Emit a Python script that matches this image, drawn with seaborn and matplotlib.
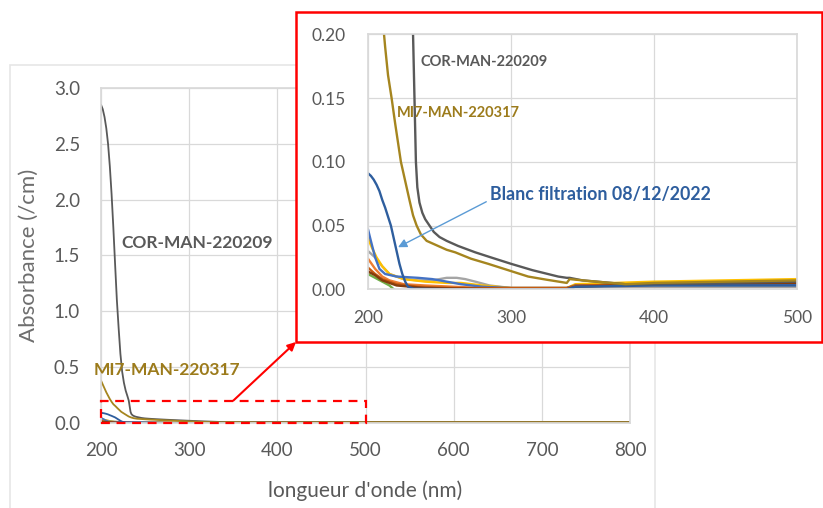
import numpy as np
import pandas as pd
import seaborn as sns
import matplotlib.pyplot as plt
from matplotlib.patches import Rectangle, ConnectionPatch

sns.set_theme(style="whitegrid")
plt.rcParams['font.family'] = ['Lato', 'DejaVu Sans']

# --- spectra (wavelength nm, absorbance /cm) ---
cor_wl = [200, 202, 204, 206, 208, 210, 212, 214, 216, 218, 220, 222, 224, 226, 228, 230, 231.5, 232.5,
          233.5, 234.5, 236, 238, 240, 243, 246, 250, 255, 263, 275, 286, 300, 315, 333, 339, 341, 350,
          360, 380, 400, 450, 500, 600, 700, 800]
cor_abs = [2.85, 2.81, 2.74, 2.64, 2.5, 2.3, 2.05, 1.75, 1.42, 1.1, 0.85, 0.62, 0.46, 0.36, 0.29, 0.24,
           0.2, 0.15, 0.1, 0.08, 0.068, 0.06, 0.055, 0.05, 0.045, 0.041, 0.038, 0.034, 0.029, 0.025, 0.02,
           0.015, 0.01, 0.009, 0.009, 0.007, 0.006, 0.004, 0.004, 0.005, 0.006, 0.006, 0.006, 0.006]

mi7_wl = [200, 202, 204, 206, 208, 210, 212, 214, 216.5, 219, 221, 223, 226, 229, 231.5, 234, 237, 241,
          247, 255, 261, 272, 284, 298, 312, 325, 339, 341, 350, 360, 380, 400, 450, 500, 600, 700, 800]
mi7_abs = [0.38, 0.345, 0.31, 0.275, 0.245, 0.215, 0.19, 0.168, 0.15, 0.13, 0.115, 0.1, 0.085, 0.07,
           0.058, 0.05, 0.043, 0.038, 0.035, 0.031, 0.029, 0.024, 0.02, 0.015, 0.01, 0.0075, 0.005, 0.008,
           0.007, 0.006, 0.004, 0.005, 0.006, 0.007, 0.007, 0.007, 0.007]

blanc_wl = [200, 202, 204, 206, 208, 210, 212, 214, 216, 218, 220, 222, 224, 226, 228, 232, 260, 300, 339,
            345, 400, 500, 800]
blanc_abs = [0.091, 0.089, 0.086, 0.082, 0.077, 0.07, 0.064, 0.057, 0.05, 0.04, 0.03, 0.02, 0.012, 0.006,
             0.002, 0.0005, 0.0, 0.0, 0.0, 0.002, 0.003, 0.003, 0.003]

blue_wl = [200, 202, 205, 208, 212, 220, 235, 245, 255, 265, 280, 300, 339, 345, 400, 500, 800]
blue_abs = [0.047, 0.038, 0.025, 0.016, 0.012, 0.01, 0.009, 0.008, 0.006, 0.004, 0.002, 0.001, 0.001, 0.003,
            0.004, 0.004, 0.004]

yellow_wl = [200, 203, 206, 210, 215, 225, 240, 255, 265, 280, 300, 339, 345, 400, 500, 800]
yellow_abs = [0.04, 0.032, 0.025, 0.018, 0.012, 0.008, 0.006, 0.005, 0.005, 0.003, 0.001, 0.001, 0.004,
              0.006, 0.008, 0.008]

lgray_wl = [200, 205, 210, 215, 225, 235, 245, 250, 255, 262, 268, 275, 285, 300, 339, 345, 500, 800]
lgray_abs = [0.03, 0.025, 0.018, 0.012, 0.008, 0.007, 0.007, 0.008, 0.009, 0.009, 0.008, 0.006, 0.003,
             0.001, 0.001, 0.002, 0.002, 0.002]

orange_wl = [200, 205, 210, 215, 225, 240, 260, 280, 339, 345, 500, 800]
orange_abs = [0.024, 0.016, 0.01, 0.007, 0.004, 0.003, 0.002, 0.001, 0.001, 0.002, 0.002, 0.002]

brown_wl = [200, 205, 210, 220, 235, 260, 339, 345, 400, 500, 800]
brown_abs = [0.017, 0.012, 0.008, 0.004, 0.002, 0.001, 0.001, 0.003, 0.004, 0.006, 0.006]

dbrown_wl = [200, 205, 210, 220, 240, 300, 339, 345, 400, 500, 800]
dbrown_abs = [0.014, 0.011, 0.007, 0.003, 0.001, 0.0, 0.0, 0.002, 0.004, 0.005, 0.005]

green_wl = [200, 205, 210, 215, 218, 222, 230, 800]
green_abs = [0.012, 0.009, 0.006, 0.003, 0.0, -0.003, -0.005, -0.005]

series = {
    "green": (green_wl, green_abs, "#70AD47"),
    "orange": (orange_wl, orange_abs, "#ED7D31"),
    "lgray": (lgray_wl, lgray_abs, "#A5A5A5"),
    "yellow": (yellow_wl, yellow_abs, "#FFC000"),
    "blue": (blue_wl, blue_abs, "#4472C4"),
    "brown": (brown_wl, brown_abs, "#C55A11"),
    "dbrown": (dbrown_wl, dbrown_abs, "#843C0C"),
    "blanc": (blanc_wl, blanc_abs, "#2E5E9E"),
    "cor": (cor_wl, cor_abs, "#595959"),
    "mi7": (mi7_wl, mi7_abs, "#A5851F"),
}

df = pd.concat([pd.DataFrame({"wl": w, "A": a, "s": k}) for k, (w, a, c) in series.items()])
palette = {k: v[2] for k, v in series.items()}

W, H = 823, 508
fig = plt.figure(figsize=(W / 100, H / 100), dpi=100)
tc = "#595959"
gc = "#D9D9D9"

# outer chart frame
fig.add_artist(Rectangle((10 / W, -0.01), (655 - 10) / W, 1 - 65 / H + 0.01, transform=fig.transFigure,
                         fill=False, edgecolor="#E6E6E6", lw=1.2, zorder=0.5))

# ---- main axes ----
ax = fig.add_axes([101 / W, 1 - 423 / H, 529 / W, 335 / H], zorder=1)
sns.lineplot(data=df, x="wl", y="A", hue="s", palette=palette, sort=False, estimator=None,
             lw=1.3, legend=False, ax=ax)
ax.set_xlim(200, 800)
ax.set_ylim(0, 3.0)
ax.set_xticks(range(200, 801, 100))
ax.set_yticks(np.arange(0, 3.01, 0.5))
ax.set_yticklabels([f"{v:.1f}" for v in np.arange(0, 3.01, 0.5)])
ax.grid(color=gc, lw=0.9)
for sp in ax.spines.values():
    sp.set_color(gc)
ax.tick_params(length=0, labelsize=13.5, labelcolor=tc)
ax.tick_params(axis="y", pad=15)
ax.tick_params(axis="x", pad=14)
ax.set_xlabel("longueur d'onde (nm)", fontsize=15, color=tc)
ax.set_ylabel("Absorbance (/cm)", fontsize=16, color="#6E6E6E")
ax.xaxis.set_label_coords(0.5, -0.17)
ax.yaxis.set_label_coords(-0.118, 0.5)
ax.text(222.7, 1.614, "COR-MAN-220209", color="#595959", fontsize=12.5, fontweight="bold", va="center")
ax.text(192, 0.474, "MI7-MAN-220317", color="#9C7B1B", fontsize=12.5, fontweight="bold", va="center")

# zoom box
ax.add_patch(Rectangle((200, 0), 300, 0.2, fill=False, edgecolor="red", ls=(0, (4, 3)), lw=1.6,
                       clip_on=False, zorder=5))

# red frame around inset
fig.add_artist(Rectangle((296 / W, 1 - 342 / H), (822 - 296) / W, (342 - 12) / H, transform=fig.transFigure,
                         facecolor="white", edgecolor="red", lw=1.8, zorder=2))
fig.add_artist(ConnectionPatch(xyA=(350, 0.2), coordsA=ax.transData, xyB=(296 / W, 1 - 342 / H),
                               coordsB=fig.transFigure, arrowstyle="-|>", color="red", lw=1.5,
                               mutation_scale=12, zorder=2.5))

# ---- inset axes ----
ax2 = fig.add_axes([368 / W, 1 - 289.3 / H, (797 - 368) / W, 255 / H], zorder=3)
sns.lineplot(data=df, x="wl", y="A", hue="s", palette=palette, sort=False, estimator=None,
             lw=1.7, legend=False, ax=ax2)
ax2.set_xlim(200, 500)
ax2.set_ylim(0, 0.2)
ax2.set_xticks([200, 300, 400, 500])
ax2.set_yticks(np.arange(0, 0.201, 0.05))
ax2.set_yticklabels([f"{v:.2f}" for v in np.arange(0, 0.201, 0.05)])
ax2.set_facecolor("white")
ax2.grid(color=gc, lw=0.9)
for sp in ax2.spines.values():
    sp.set_color(gc)
ax2.tick_params(length=0, labelsize=12.5, labelcolor=tc)
ax2.tick_params(axis="y", pad=16)
ax2.tick_params(axis="x", pad=15)
ax2.set_xlabel("")
ax2.set_ylabel("")
ax2.text(237, 0.1785, "COR-MAN-220209", color="#595959", fontsize=10.5, fontweight="bold", va="center")
ax2.text(220.5, 0.138, "MI7-MAN-220317", color="#9C7B1B", fontsize=10.5, fontweight="bold", va="center")
ax2.annotate("Blanc filtration 08/12/2022", xy=(221, 0.033), xytext=(285, 0.074),
             color="#2E5E9E", fontsize=12.8, fontweight="bold", va="center",
             arrowprops=dict(arrowstyle="-|>", color="#5B9BD5", lw=1.0, shrinkA=0, shrinkB=0,
                             relpos=(0, 0.2)))

fig.savefig("out.png", dpi=100)
